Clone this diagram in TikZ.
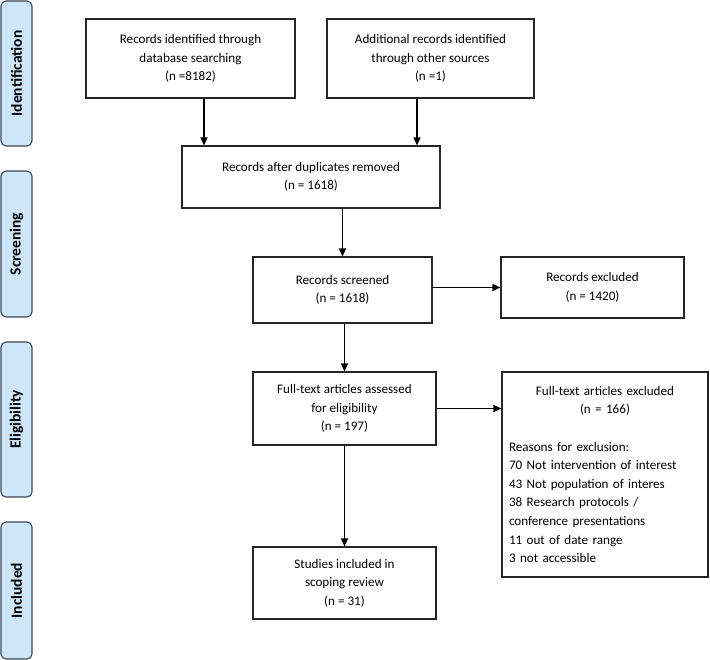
\documentclass[tikz,border=0pt]{standalone}
\usepackage{fontspec}
\setmainfont{Carlito}
\usetikzlibrary{arrows.meta}
\definecolor{linec}{HTML}{262626}
\definecolor{barfill}{HTML}{CDE6FA}
\definecolor{barline}{HTML}{3C4650}
\begin{document}
\begin{tikzpicture}[x=1pt,y=-1pt,
  box/.style={draw=linec, line width=1.1pt, align=center, inner sep=2pt,
    font=\fontsize{13.1}{18.6}\selectfont},
  bar/.style={draw=barline, line width=1.1pt, fill=barfill, rounded corners=5pt,
    minimum width=31pt},
  barlabel/.style={rotate=90, font=\fontsize{15.5}{18}\selectfont\bfseries},
  arr/.style={draw=black, line width=1.2pt, -{Triangle[length=8pt,width=7pt]}}]
\useasboundingbox (0,0) rectangle (710,660);
% side bars
\node[bar, minimum height=145pt] (s1) at (16.5,73.5) {};
\node[barlabel] at (s1) {Identification};
\node[bar, minimum height=146pt] (s2) at (16.5,244) {};
\node[barlabel] at (s2) {Screening};
\node[bar, minimum height=155pt] (s3) at (16.5,419.5) {};
\node[barlabel] at (s3) {Eligibility};
\node[bar, minimum height=137pt] (s4) at (16.5,590.5) {};
\node[barlabel] at (s4) {Included};
% boxes
\node[box, minimum width=209pt, minimum height=79pt] (b1) at (190.5,58.5)
  {Records identified through\\database searching\\(n =8182)};
\node[box, minimum width=207pt, minimum height=79pt] (b2) at (430.5,58.5)
  {Additional records identified\\through other sources\\(n =1)};
\node[box, minimum width=258pt, minimum height=62pt] (b3) at (311,177)
  {Records after duplicates removed\\(n = 1618)};
\node[box, minimum width=179pt, minimum height=66pt] (b4) at (342.5,290)
  {Records screened\\(n = 1618)};
\node[box, minimum width=183pt, minimum height=61pt] (b5) at (592.5,287.5)
  {Records excluded\\(n = 1420)};
\node[box, minimum width=183pt, minimum height=73pt] (b6) at (344.5,408.5)
  {Full-text articles assessed\\for eligibility\\(n = 197)};
\node[box, minimum width=206pt, minimum height=205pt, align=left, text width=192pt] (b7) at (605,474.5)
  {{\centering Full-text articles excluded\\(n = 166)\par}
   \vspace{18.6pt}
   Reasons for exclusion:\\
   70 Not intervention of interest\\
   43 Not population of interes\\
   38 Research protocols /\\
   conference presentations\\
   11 out of date range\\
   3 not accessible};
\node[box, minimum width=183pt, minimum height=72pt] (b8) at (344.5,583)
  {Studies included in\\scoping review\\(n = 31)};
% helper coordinates
\coordinate (c1) at (204,0);
\coordinate (c2) at (417,0);
% connectors
\draw[arr] (b1.south -| c1) -- (b3.north -| c1);
\draw[arr] (b2.south -| c2) -- (b3.north -| c2);
\draw[arr] (b3.south -| b4.north) -- (b4.north);
\draw[arr] (b4.east |- b5.west) -- (b5.west);
\draw[arr] (b4.south -| b6.north) -- (b6.north);
\draw[arr] (b6.east) -- (b7.west |- b6.east);
\draw[arr] (b6.south) -- (b8.north);
\end{tikzpicture}
\end{document}
